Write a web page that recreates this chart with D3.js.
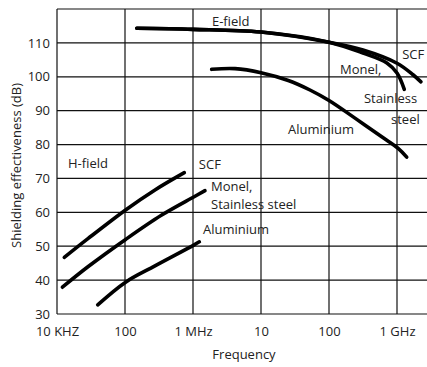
<!DOCTYPE html>
<html>
<head>
<meta charset="utf-8">
<script src="https://cdn.jsdelivr.net/npm/d3@7"></script>
<style>
  html, body { margin: 0; padding: 0; background: #fff; }
  svg { display: block; }
  text { font-family: "Open Sans", sans-serif; fill: #222; }
</style>
</head>
<body>
<svg id="chart" width="427" height="367"></svg>
<script>
// ---- data (frequency in Hz, shielding effectiveness in dB) ----
const xTickValues = [1e4, 1e5, 1e6, 1e7, 1e8, 1e9];
const xTickLabels = ["10 KHZ", "100", "1 MHz", "10", "100", "1 GHz"];
const yTickValues = [30, 40, 50, 60, 70, 80, 90, 100, 110];

const eFieldSCF = [[1.49e5,114.3],[1e6,114.0],[1e7,113.2],[1e8,110.2],[3.16e8,107.9],[1e9,104.0],[1.72e9,100.6],[2.25e9,98.5]];
const eFieldMonel = [[1.49e5,114.3],[1e6,114.0],[1e7,113.2],[1e8,110.2],[3.16e8,107.0],[7.1e8,104.1],[1e9,101.1],[1.28e9,96.3]];
const eFieldAluminium = [[1.88e6,102.2],[4.15e6,102.4],[1e7,101.2],[2.52e7,98.9],[5.25e7,96.1],[1e8,93.0],[2.41e8,87.8],[5.96e8,82.3],[1.04e9,78.9],[1.39e9,76.3]];
const hFieldSCF = [[1.28e4,46.7],[2.88e4,52.3],[1.02e5,60.7],[2.76e5,66.6],[7.45e5,71.7]];
const hFieldMonel = [[1.2e4,37.9],[2.88e4,44.0],[1.02e5,52.0],[3.47e5,59.2],[1.04e6,64.6],[1.5e6,66.4]];
const hFieldAluminium = [[3.97e4,32.7],[1.02e5,39.4],[2.76e5,44.2],[1.04e6,50.4],[1.24e6,51.3]];

// annotation labels: [lines, frequency, dB] (left/baseline anchor of first line)
const labels = [
  [["E-field"], 1.9e6, 115.0],
  [["SCF"], 1.19e9, 105.3],
  [["Monel,"], 1.45e8, 100.8],
  [["Stainless"], 3.27e8, 92.3],
  [["steel"], 8.17e8, 86.1],
  [["Aluminium"], 2.49e7, 83.1],
  [["H-field"], 1.45e4, 73.1],
  [["SCF"], 1.22e6, 72.8],
  [["Monel,", "Stainless steel"], 1.84e6, 66.16],
  [["Aluminium"], 1.4e6, 53.6]
];

// ---- layout ----
const svg = d3.select("#chart");
const mLeft = 57, mRight = 427, mTop = 9, mBottom = 314;
const decadePx = 68;
const x = d3.scaleLog()
  .domain([1e4, Math.pow(10, 4 + (mRight - mLeft) / decadePx)])
  .range([mLeft, mRight]);
const y = d3.scaleLinear().domain([30, 120]).range([mBottom, mTop]);

// grid
const grid = svg.append("g").attr("stroke", "#111").attr("stroke-width", 1.2).attr("fill", "none");
yTickValues.forEach(v => {
  grid.append("line").attr("x1", mLeft).attr("x2", mRight).attr("y1", y(v)).attr("y2", y(v));
});
xTickValues.forEach(v => {
  grid.append("line").attr("x1", x(v)).attr("x2", x(v)).attr("y1", mTop).attr("y2", mBottom);
});
grid.append("line").attr("x1", mLeft).attr("x2", mRight).attr("y1", mTop).attr("y2", mTop);

// axes (labels only)
const yAxis = d3.axisLeft(y).tickValues(yTickValues).tickSize(0).tickPadding(7);
svg.append("g").attr("transform", `translate(${mLeft},0)`).call(yAxis)
  .call(g => g.select(".domain").remove())
  .selectAll("text").style("font-size", "13px").attr("fill", "#222").attr("font-family", "Open Sans");

const xAxis = d3.axisBottom(x).tickValues(xTickValues).tickSize(0).tickPadding(13)
  .tickFormat((d, i) => xTickLabels[i]);
svg.append("g").attr("transform", `translate(0,${mBottom})`).call(xAxis)
  .call(g => g.select(".domain").remove())
  .selectAll("text").style("font-size", "13px").attr("fill", "#222").attr("font-family", "Open Sans");

// axis titles
svg.append("text").attr("x", (mLeft + mRight) / 2 + 2).attr("y", 359)
  .attr("text-anchor", "middle").style("font-size", "13px").text("Frequency");
svg.append("text").attr("transform", `translate(21,${(mTop + mBottom) / 2 + 4}) rotate(-90)`)
  .attr("text-anchor", "middle").style("font-size", "13px").text("Shielding effectiveness (dB)");

// curves
const line = d3.line().x(d => x(d[0])).y(d => y(d[1])).curve(d3.curveCatmullRom.alpha(0.5));
[eFieldSCF, eFieldMonel, eFieldAluminium, hFieldSCF, hFieldMonel, hFieldAluminium].forEach(s => {
  svg.append("path").attr("d", line(s)).attr("fill", "none")
    .attr("stroke", "#000").attr("stroke-width", 3.6).attr("stroke-linecap", "round");
});

// labels
labels.forEach(([lines, f, v]) => {
  const t = svg.append("text").attr("x", x(f)).attr("y", y(v)).style("font-size", "13px");
  lines.forEach((s, i) => {
    t.append("tspan").attr("x", x(f)).attr("dy", i === 0 ? 0 : 18).text(s);
  });
});
</script>
</body>
</html>
